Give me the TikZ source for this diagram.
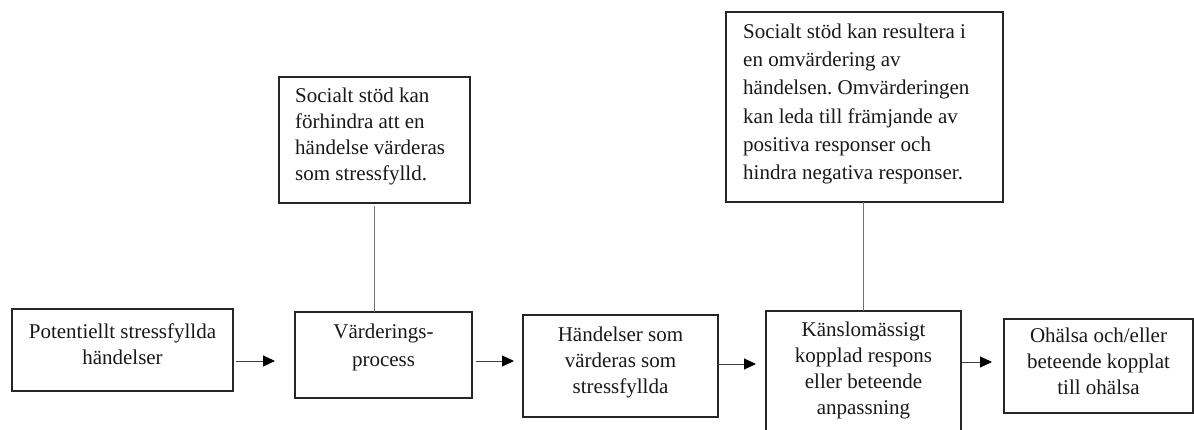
\documentclass[tikz,border=0pt]{standalone}
\usepackage{fontspec}
\setmainfont{Liberation Serif}
\usetikzlibrary{arrows.meta}
\frenchspacing
\begin{document}
\begin{tikzpicture}[x=1pt,y=-1pt,
  box/.style={draw=black!85, line width=1.5pt, inner sep=0pt, outer sep=0pt, fill=white},
  txt/.style={inner sep=0pt, align=center, text=black!90, font=\fontsize{21}{25.7}\selectfont},
  ltxt/.style={inner sep=0pt, align=left, anchor=west, text=black!90, font=\fontsize{21}{25.7}\selectfont},
  arr/.style={draw=black!75, line width=0.9pt, -{Triangle[length=12pt,width=11pt,color=black,fill=black]}},
  link/.style={draw=black!55, line width=0.8pt}]
\useasboundingbox (0,0) rectangle (1194,430);
% bottom boxes
\node[box, minimum width=221pt, minimum height=82pt] (b1) at (122.5,350) {};
\node[box, minimum width=177pt, minimum height=86pt] (b2) at (383.5,355) {};
\node[box, minimum width=195pt, minimum height=102pt] (b3) at (620.5,366) {};
\node[box, minimum width=195pt, minimum height=123pt] (b4) at (863.5,372.5) {};
\node[box, minimum width=189pt, minimum height=94pt] (b5) at (1098.5,366) {};
% top boxes
\node[box, minimum width=191pt, minimum height=126pt] (t1) at (374.5,140) {};
\node[box, minimum width=277pt, minimum height=190pt] (t2) at (864.5,107) {};
% texts
\node[txt] (x1) at (122.5,344.5) {Potentiellt stressfyllda\\händelser};
\node[txt, font=\fontsize{21}{28}\selectfont] (x2) at (383.5,347) {Värderings-\\process};
\node[txt] (x3) at (620.5,362.5) {Händelser som\\värderas som\\stressfyllda};
\node[txt] (x4) at (863.5,370.5) {Känslomässigt\\kopplad respons\\eller beteende\\anpassning};
\node[txt] (x5) at (1098.5,361.5) {Ohälsa och/eller\\beteende kopplat\\till ohälsa};
\node[ltxt] (y1) at (295,136.5) {Socialt stöd kan\\förhindra att en\\händelse värderas\\som stressfylld.};
\node[ltxt, font=\fontsize{21}{28.3}\selectfont] (y2) at (743,104) {Socialt stöd kan resultera i\\en omvärdering av\\händelsen. Omvärderingen\\kan leda till främjande av\\positiva responser och\\hindra negativa responser.};
% arrows
\draw[arr] ([xshift=3pt,yshift=-11pt]b1.east) -- ([xshift=-20pt,yshift=-6pt]b2.west);
\draw[arr] ([xshift=4pt,yshift=-6pt]b2.east) -- ([xshift=-9pt,yshift=5pt]b3.west);
\draw[arr] ([xshift=0pt,yshift=2pt]b3.east) -- ([xshift=-10pt,yshift=8.5pt]b4.west);
\draw[arr] ([xshift=1pt,yshift=10.5pt]b4.east) -- ([xshift=-12pt,yshift=4pt]b5.west);
% links
\draw[link] ([yshift=-3pt]t1.south) -- (t1.south |- b2.north);
\draw[link] (b4.north |- t2.south) -- (b4.north);
\end{tikzpicture}
\end{document}
